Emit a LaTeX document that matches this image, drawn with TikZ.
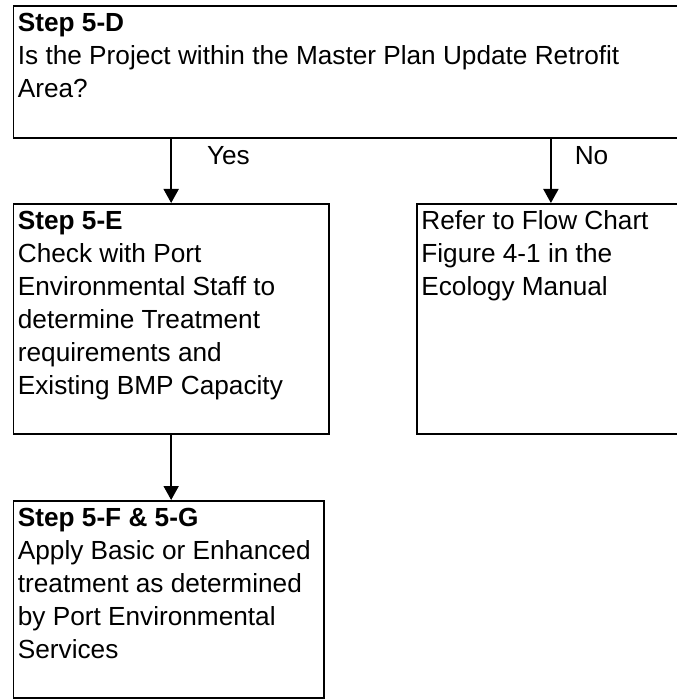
\documentclass[tikz,border=0pt]{standalone}
\usepackage{fontspec}
\setmainfont{Liberation Sans}
\usetikzlibrary{arrows.meta}

\newcommand*{\boxtext}[3]{\parbox[t][#2][t]{#1}{\rule{0pt}{26pt}\begin{tabular}[t]{@{}l@{}}#3\end{tabular}}}

\begin{document}
\begin{tikzpicture}
[
	x=1pt,y=1pt,
	stepbox/.style={draw,line width=1.8pt,anchor=north west,inner xsep=4.5pt,inner ysep=0pt,font=\fontsize{26.2}{33}\selectfont},
	flow/.style={line width=1.8pt,-{Triangle[length=14pt,width=15pt]}},
	answer/.style={anchor=base west,inner sep=0pt,font=\fontsize{26.2}{33}\selectfont}
]

	\useasboundingbox (0,0) rectangle (676,-700);

	% boxes
	\node[stepbox] (d) at (12.5,-5) {\boxtext{668.5pt}{132pt}{\textbf{Step 5-D}\\Is the Project within the Master Plan Update Retrofit\\Area?}};
	\node[stepbox] (e) at (12.5,-203) {\boxtext{306.5pt}{230pt}{\textbf{Step 5-E}\\Check with Port\\Environmental Staff to\\determine Treatment\\requirements and\\Existing BMP Capacity}};
	\node[stepbox] (r) at (416,-203) {\boxtext{259pt}{230pt}{Refer to Flow Chart\\Figure 4-1 in the\\Ecology Manual}};
	\node[stepbox] (f) at (12.5,-500) {\boxtext{301.5pt}{197pt}{\textbf{Step 5-F \& 5-G}\\Apply Basic or Enhanced\\treatment as determined\\by Port Environmental\\Services}};

	% arrows
	\draw[flow] (d.south -| e.north) -- node[answer,xshift=35pt,yshift=6pt] (yes) {Yes} (e.north);
	\draw[flow] (d.south -| r.north) -- node[answer,xshift=23pt,yshift=6pt] (no) {No} (r.north);
	\draw[flow] (e.south) -- (e.south |- f.north);

\end{tikzpicture}
\end{document}
